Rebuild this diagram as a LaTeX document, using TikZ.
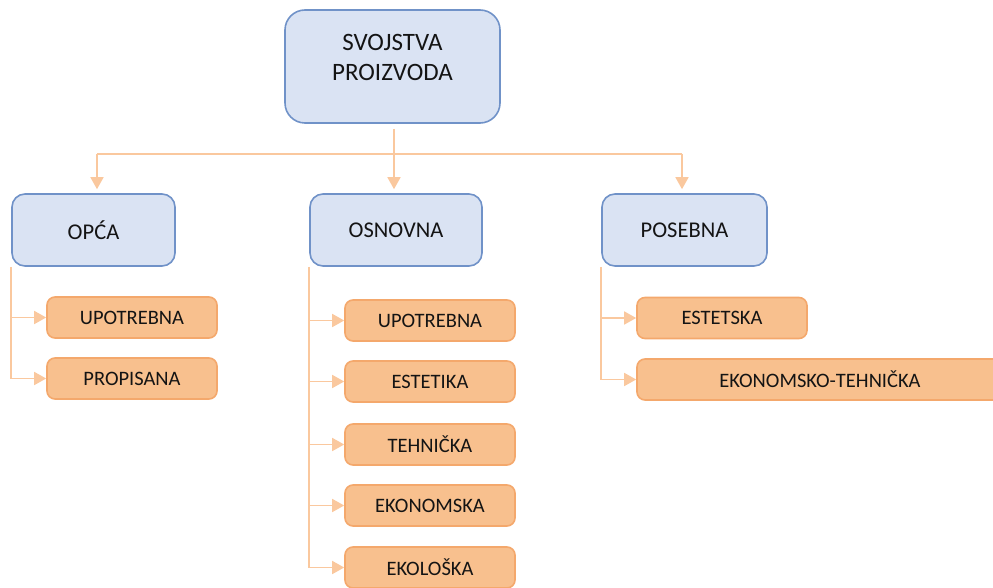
\documentclass[tikz,border=0pt]{standalone}
\usepackage{fontspec}
\setmainfont{Carlito}
\usepackage{tikz}
\usetikzlibrary{arrows.meta}
\definecolor{blueFill}{RGB}{218,227,243}
\definecolor{blueLine}{RGB}{112,146,200}
\definecolor{orangeFill}{RGB}{248,192,142}
\definecolor{orangeLine}{RGB}{244,168,108}
\definecolor{linkColor}{RGB}{250,200,158}
\definecolor{textColor}{RGB}{20,20,20}

\begin{document}
\begin{tikzpicture}[x=1pt,y=-1pt]

          \tikzstyle{mainNode} = [draw=blueLine,fill=blueFill,line width=1.6pt,rounded corners=20pt,
            minimum width=215pt,minimum height=113pt,align=center,text=textColor,font=\fontsize{25}{30}\selectfont];
          \tikzstyle{groupNode} = [draw=blueLine,fill=blueFill,line width=1.6pt,rounded corners=13pt,
            minimum height=72pt,text=textColor,font=\fontsize{22.5}{26}\selectfont];
          \tikzstyle{leafNode} = [draw=orangeLine,fill=orangeFill,line width=1.6pt,rounded corners=8pt,
            minimum width=170pt,minimum height=41pt,text=textColor,font=\fontsize{20.5}{24}\selectfont];
          \tikzstyle{link} = [linkColor,line width=1.6pt];
          \tikzstyle{linkArrow} = [linkColor,line width=1.6pt,-{Triangle[length=12pt,width=13pt]}];

          \useasboundingbox (0,0) rectangle (993,588);

          \node[mainNode] (svojstva) at (392.5,66.5) {SVOJSTVA\\PROIZVODA\\[-11pt]\mbox{}};
          \node[groupNode,minimum width=163pt] (opca) at (93.5,230) {OPĆA};
          \node[groupNode,minimum width=172pt] (osnovna) at (396,230) {OSNOVNA};
          \node[groupNode,minimum width=165pt] (posebna) at (684.5,230) {POSEBNA};

          \node[leafNode] (opcaUpotrebna) at (132,317.5) {UPOTREBNA};
          \node[leafNode] (opcaPropisana) at (132,378.5) {PROPISANA};

          \node[leafNode] (osnUpotrebna) at (430,320.5) {UPOTREBNA};
          \node[leafNode] (osnEstetika) at (430,381.5) {ESTETIKA};
          \node[leafNode] (osnTehnicka) at (430,444.5) {TEHNIČKA};
          \node[leafNode] (osnEkonomska) at (430,505.5) {EKONOMSKA};
          \node[leafNode] (osnEkoloska) at (430,567.5) {EKOLOŠKA};

          \node[leafNode] (posEstetska) at (722,318) {ESTETSKA};
          \node[leafNode,minimum width=366pt] (posEkoTeh) at (820,379.5) {EKONOMSKO-TEHNIČKA};

          \coordinate (split) at (394,154);
          \draw[link] (97,154) -- (682,154);
          \draw[linkArrow] ([yshift=-5pt]svojstva.south -| split) -- ([yshift=4pt]osnovna.north -| split);
          \draw[linkArrow] (97,154) -- ([yshift=4pt]opca.north -| 97,0);
          \draw[linkArrow] (682,154) -- ([yshift=4pt]posebna.north -| 682,0);

          \draw[link] (opca.south west) -- (opca.south west |- opcaPropisana.west);
          \draw[linkArrow] (opca.south west |- opcaUpotrebna.west) -- (opcaUpotrebna.west);
          \draw[linkArrow] (opca.south west |- opcaPropisana.west) -- (opcaPropisana.west);

          \draw[link] (osnovna.south west) -- (osnovna.south west |- osnEkoloska.west);
          \foreach \leaf in {osnUpotrebna,osnEstetika,osnTehnicka,osnEkonomska,osnEkoloska}
            \draw[linkArrow] (osnovna.south west |- \leaf.west) -- (\leaf.west);

          \draw[link] (posebna.south west) -- (posebna.south west |- posEkoTeh.west);
          \draw[linkArrow] (posebna.south west |- posEstetska.west) -- (posEstetska.west);
          \draw[linkArrow] (posebna.south west |- posEkoTeh.west) -- (posEkoTeh.west);
        \end{tikzpicture}
\end{document}
